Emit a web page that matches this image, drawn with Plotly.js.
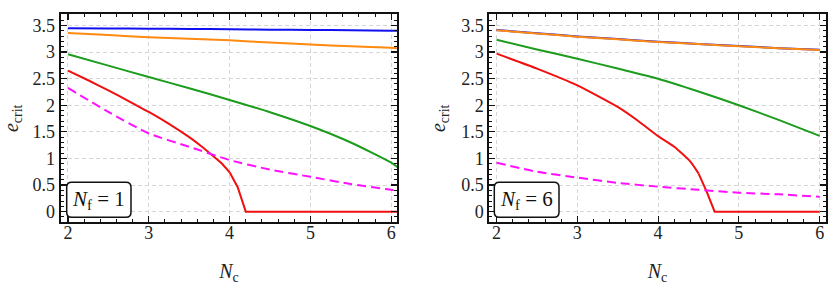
<!DOCTYPE html>
<html>
<head>
<meta charset="utf-8">
<script src="https://cdn.plot.ly/plotly-3.0.1.min.js"></script>
<style>html,body{margin:0;padding:0;background:#fff;}#chart{width:830px;height:285px;}</style>
</head>
<body>
<div id="chart"></div>
<script>
// ---------- data: left panel (N_f = 1) ----------
const xL        = [2, 2.5, 3, 3.5, 4, 4.5, 5, 5.5, 6, 6.1];
const blueL     = [3.45, 3.445, 3.44, 3.435, 3.43, 3.42, 3.415, 3.41, 3.40, 3.40];
const orangeL   = [3.36, 3.32, 3.28, 3.25, 3.22, 3.18, 3.14, 3.11, 3.08, 3.07];
const greenL    = [2.96, 2.745, 2.53, 2.32, 2.10, 1.87, 1.61, 1.30, 0.92, 0.81];
const magentaL  = [2.325, 1.875, 1.47, 1.22, 0.97, 0.79, 0.655, 0.52, 0.41, 0.395];
const xRedL     = [2, 2.25, 2.5, 2.75, 3, 3.25, 3.5, 3.65, 3.8, 3.9, 4.0, 4.1, 4.2, 6.1];
const redL      = [2.65, 2.47, 2.28, 2.08, 1.875, 1.65, 1.40, 1.23, 1.04, 0.91, 0.74, 0.46, 0, 0];

// ---------- data: right panel (N_f = 6) ----------
const xR        = [2, 2.5, 3, 3.5, 4, 4.5, 5, 5.5, 6];
const blueR     = [3.414, 3.354, 3.294, 3.244, 3.194, 3.154, 3.114, 3.074, 3.044];
const orangeR   = [3.41, 3.35, 3.29, 3.24, 3.19, 3.15, 3.11, 3.07, 3.04];
const greenR    = [3.23, 3.05, 2.875, 2.69, 2.50, 2.26, 2.00, 1.72, 1.425];
const magentaR  = [0.92, 0.75, 0.64, 0.54, 0.47, 0.41, 0.356, 0.325, 0.28];
const xRedR     = [2, 2.5, 3, 3.5, 3.75, 4, 4.2, 4.4, 4.5, 4.6, 4.7, 6];
const redR      = [2.97, 2.69, 2.375, 1.97, 1.71, 1.42, 1.22, 0.94, 0.72, 0.38, 0, 0];

const panelLabels = ['<i>N</i><sub>f</sub> = 1', '<i>N</i><sub>f</sub> = 6'];

// ---------- styling ----------
const W = 830, H = 285;
const C = {blue:'#1010f0', orange:'#ff8a10', green:'#1c9c1c', red:'#f01010', magenta:'#ff10ff'};
const LW = 2;
const FONT = 'Liberation Serif';

function tr(x, y, color, xa, ya, opts) {
  return Object.assign({x:x, y:y, type:'scatter', mode:'lines', xaxis:xa, yaxis:ya,
    line:{color:color, width:LW, shape:'spline', smoothing:0.6}, hoverinfo:'skip', showlegend:false}, opts||{});
}
// red curves: smooth part as spline up to the last sample before the drop; the drop and flat part linear
function redTraces(x, y, xa, ya, kink) {
  return [
    tr(x.slice(0, kink + 1), y.slice(0, kink + 1), C.red, xa, ya, {line:{color:C.red, width:LW, shape:'spline', smoothing:0.5}}),
    tr(x.slice(kink), y.slice(kink), C.red, xa, ya, {line:{color:C.red, width:LW, shape:'linear'}})
  ];
}

const data = [
  tr(xL, blueL, C.blue, 'x', 'y'),
  tr(xL, orangeL, C.orange, 'x', 'y'),
  tr(xL, greenL, C.green, 'x', 'y'),
  ...redTraces(xRedL, redL, 'x', 'y', 10),
  tr(xL, magentaL, C.magenta, 'x', 'y', {line:{color:C.magenta, width:LW, dash:'9px,5px', shape:'spline', smoothing:0.6}}),
  tr(xR, blueR, C.blue, 'x2', 'y2'),
  tr(xR, orangeR, C.orange, 'x2', 'y2'),
  tr(xR, greenR, C.green, 'x2', 'y2'),
  ...redTraces(xRedR, redR, 'x2', 'y2', 8),
  tr(xR, magentaR, C.magenta, 'x2', 'y2', {line:{color:C.magenta, width:LW, dash:'9px,5px', shape:'spline', smoothing:0.6}})
];

const yTop = 14.3, yBot = 222.3;
const frames = [[60.7, 397.3], [489.3, 825.7]];

function xAxis(dom, anchor) {
  return {
    domain:[dom[0]/W, dom[1]/W], anchor:anchor, range:[1.91, 6.075],
    tickmode:'linear', tick0:0, dtick:1,
    showline:true, linewidth:2, linecolor:'#111', mirror:'allticks',
    ticks:'inside', ticklen:6, tickwidth:1.2, tickcolor:'#111',
    minor:{dtick:0.2, ticks:'inside', ticklen:3, tickwidth:1, tickcolor:'#111', showgrid:false},
    showgrid:true, gridcolor:'#d6d6d6', gridwidth:1, griddash:'4px,3px',
    zeroline:false, tickfont:{family:FONT, size:18, color:'#222'}, ticklabelstandoff:-7,
    title:{text:'<i>N</i><sub>c</sub>', font:{family:FONT, size:20, color:'#222'}, standoff:23}
  };
}
function yAxis(anchor) {
  return {
    domain:[1 - yBot/H, 1 - yTop/H], anchor:anchor, range:[-0.2, 3.71],
    tickmode:'linear', tick0:0, dtick:0.5,
    showline:true, linewidth:2, linecolor:'#111', mirror:'allticks',
    ticks:'inside', ticklen:6, tickwidth:1.2, tickcolor:'#111',
    minor:{dtick:0.1, ticks:'inside', ticklen:3, tickwidth:1, tickcolor:'#111', showgrid:false},
    showgrid:true, gridcolor:'#d6d6d6', gridwidth:1, griddash:'4px,3px',
    zeroline:false, tickfont:{family:FONT, size:18, color:'#222'},
    title:{text:'<i>e</i><sub>crit</sub>', font:{family:FONT, size:20, color:'#222'}, standoff:10}
  };
}

function roundRect(px0, py0, px1, py1, r) {
  const X = p => (p / W).toFixed(5), Y = p => (1 - p / H).toFixed(5);
  return 'M' + X(px0 + r) + ',' + Y(py0) +
    ' L' + X(px1 - r) + ',' + Y(py0) +
    ' Q' + X(px1) + ',' + Y(py0) + ' ' + X(px1) + ',' + Y(py0 + r) +
    ' L' + X(px1) + ',' + Y(py1 - r) +
    ' Q' + X(px1) + ',' + Y(py1) + ' ' + X(px1 - r) + ',' + Y(py1) +
    ' L' + X(px0 + r) + ',' + Y(py1) +
    ' Q' + X(px0) + ',' + Y(py1) + ' ' + X(px0) + ',' + Y(py1 - r) +
    ' L' + X(px0) + ',' + Y(py0 + r) +
    ' Q' + X(px0) + ',' + Y(py0) + ' ' + X(px0 + r) + ',' + Y(py0) + ' Z';
}
const boxes = [[66.7, 182.3, 131, 217.3], [494.3, 182.3, 559, 217.3]];
const shapes = boxes.map(b => ({type:'path', xref:'paper', yref:'paper',
  path: roundRect(b[0], b[1], b[2], b[3], 5), line:{color:'#111', width:1.5}, fillcolor:'rgba(255,255,255,1)', layer:'above'}));
const annotations = boxes.map((b, i) => ({xref:'paper', yref:'paper',
  x:(b[0] + b[2]) / 2 / W, y:1 - (b[1] + b[3]) / 2 / H, xanchor:'center', yanchor:'middle',
  text: panelLabels[i], showarrow:false, font:{family:FONT, size:21, color:'#111'}}));

const layout = {
  width:W, height:H, margin:{l:0, r:0, t:0, b:0},
  paper_bgcolor:'#fff', plot_bgcolor:'#fff',
  font:{family:FONT, size:18, color:'#222'},
  xaxis: xAxis(frames[0], 'y'), yaxis: yAxis('x'),
  xaxis2: xAxis(frames[1], 'y2'), yaxis2: yAxis('x2'),
  shapes: shapes, annotations: annotations, showlegend:false
};
Plotly.newPlot('chart', data, layout, {displayModeBar:false, staticPlot:true});
</script>
</body>
</html>
